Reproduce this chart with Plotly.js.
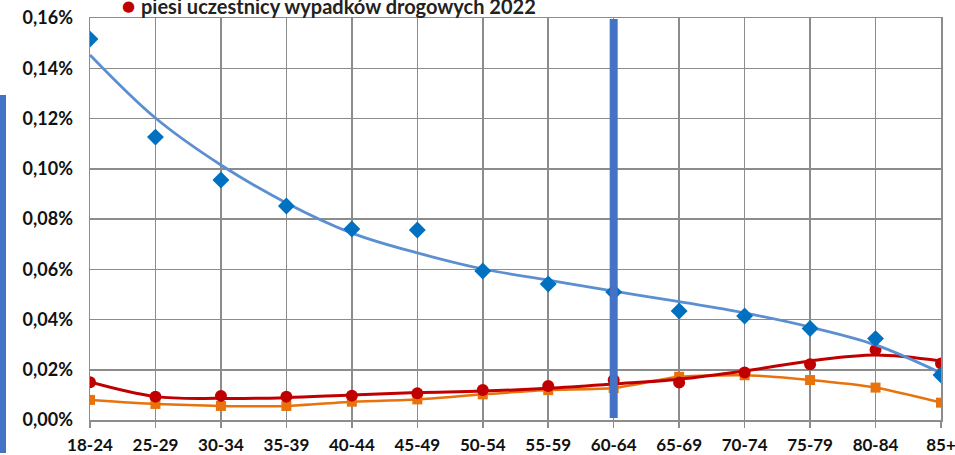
<!DOCTYPE html>
<html>
<head>
<meta charset="utf-8">
<script src="https://cdn.plot.ly/plotly-3.0.1.min.js"></script>
<style>html,body{margin:0;padding:0;background:#fff;}#chart{width:955px;height:455px;}</style>
</head>
<body>
<div id="chart"></div>
<script>
var categories = ['18-24','25-29','30-34','35-39','40-44','45-49','50-54','55-59','60-64','65-69','70-74','75-79','80-84','85+'];
var blueValues = [0.1516,0.1126,0.0955,0.0852,0.0760,0.0756,0.0593,0.0541,0.0509,0.0434,0.0414,0.0364,0.0324,0.0179];
var blueTrend  = [0.1453,0.1202,0.1015,0.0864,0.0744,0.0665,0.0601,0.0557,0.0513,0.0471,0.0426,0.0370,0.0299,0.0187];
var redValues  = [0.0150,0.0093,0.0096,0.0093,0.0097,0.0106,0.0119,0.0135,0.0159,0.0149,0.0189,0.0222,0.0280,0.0225];
var redTrend   = [0.0151,0.0093,0.0086,0.0089,0.0100,0.0109,0.0115,0.0126,0.0143,0.0162,0.0195,0.0235,0.0259,0.0235];
var orangeValues = [0.0080,0.0064,0.0056,0.0056,0.0073,0.0082,0.0102,0.0119,0.0127,0.0172,0.0178,0.0159,0.0129,0.0069];
var legendLabel = 'piesi uczestnicy wypadków drogowych 2022';
var markedCategory = '60-64';
var yTicks = [0,0.02,0.04,0.06,0.08,0.10,0.12,0.14,0.16];
var yTickText = ['0,00%','0,02%','0,04%','0,06%','0,08%','0,10%','0,12%','0,14%','0,16%'];

var fontFam = 'Lato, "Open Sans", sans-serif';
var grid = '#8C8C8C';

var traces = [
  {x: categories, y: orangeValues, type: 'scatter', mode: 'lines+markers',
   line: {color: '#E8720C', width: 2.5, shape: 'spline', smoothing: 0.6},
   marker: {symbol: 'square', size: 10, color: '#E8720C'}, showlegend: false, hoverinfo: 'skip'},
  {x: categories, y: redValues, type: 'scatter', mode: 'markers',
   marker: {symbol: 'circle', size: 12, color: '#C00000'}, showlegend: false, hoverinfo: 'skip'},
  {x: categories, y: redTrend, type: 'scatter', mode: 'lines',
   line: {color: '#C00000', width: 3, shape: 'spline', smoothing: 1}, showlegend: false, hoverinfo: 'skip'},
  {x: categories, y: blueTrend, type: 'scatter', mode: 'lines',
   line: {color: '#5B8FD0', width: 2.8, shape: 'spline', smoothing: 1}, showlegend: false, hoverinfo: 'skip'},
  {x: categories, y: blueValues, type: 'scatter', mode: 'markers',
   marker: {symbol: 'diamond', size: 13, color: '#0070C0'}, showlegend: false, hoverinfo: 'skip'}
];

var plotW = 955 - 90 - 14, plotH = 455 - 18 - 35;

var layout = {
  width: 955, height: 455,
  margin: {l: 90, r: 14, t: 18, b: 35, pad: 0},
  paper_bgcolor: '#fff', plot_bgcolor: '#fff',
  showlegend: false,
  xaxis: {
    type: 'category', range: [0, 13], showgrid: true, gridcolor: grid, gridwidth: 1.5,
    showline: true, linecolor: grid, linewidth: 1.5, mirror: true,
    ticks: 'outside', ticklen: 6, tickcolor: grid, tickwidth: 1.5, ticklabelstandoff: 3,
    tickfont: {family: fontFam, size: 17, color: '#111', weight: 700},
    fixedrange: true, zeroline: false
  },
  yaxis: {
    range: [0, 0.16], tickmode: 'array', tickvals: yTicks, ticktext: yTickText,
    showgrid: true, gridcolor: grid, gridwidth: 1.5,
    showline: true, linecolor: grid, linewidth: 1.5, mirror: true,
    ticks: '', ticklabelstandoff: 12,
    tickfont: {family: fontFam, size: 18, color: '#111', weight: 700},
    zeroline: false, fixedrange: true
  },
  shapes: [
    {type: 'line', xref: 'x', yref: 'y', x0: markedCategory, x1: markedCategory, y0: 0.0008, y1: 0.1596,
     line: {color: '#4472C4', width: 8}, layer: 'above'},
    {type: 'rect', xref: 'paper', yref: 'paper', x0: -90/plotW, x1: -84/plotW, y0: -33/plotH, y1: 325/plotH,
     fillcolor: '#4472C4', line: {width: 0}, layer: 'above'}
  ],
  annotations: [
    {xref: 'paper', yref: 'paper', x: (139 - 90)/plotW, y: (18 - 6)/plotH + 1, xanchor: 'left', yanchor: 'middle',
     text: legendLabel, showarrow: false, font: {family: fontFam, size: 20, color: '#222', weight: 700}},
    {xref: 'paper', yref: 'paper', x: (128 - 90)/plotW, y: (18 - 6)/plotH + 1, xanchor: 'center', yanchor: 'middle',
     text: '●', showarrow: false, font: {family: 'DejaVu Sans', size: 15, color: '#C00000'}}
  ]
};

Plotly.newPlot('chart', traces, layout, {displayModeBar: false, staticPlot: true});
</script>
</body>
</html>
